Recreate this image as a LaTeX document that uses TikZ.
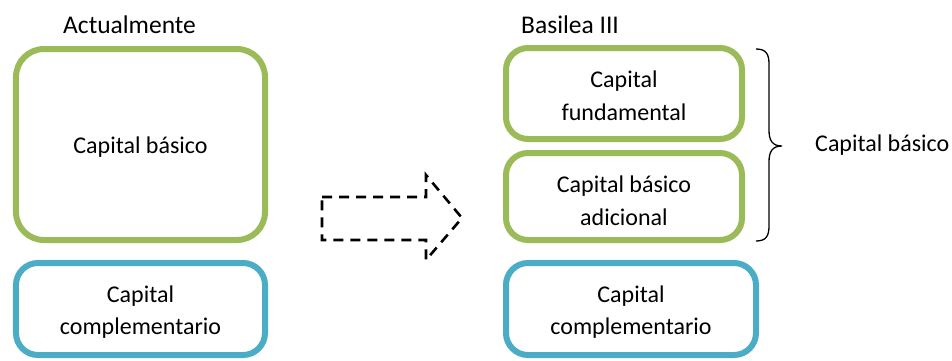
\documentclass[tikz,border=0pt]{standalone}
\usepackage{fontspec}
\setmainfont{Carlito}
\definecolor{capgreen}{HTML}{9BBB59}
\definecolor{capblue}{HTML}{4BACC6}
\begin{document}
\begin{tikzpicture}[x=1bp,y=-1bp,
  every node/.style={font=\fontsize{24bp}{32.5bp}\selectfont, text=black},
  capbox/.style={draw, line width=6bp, rounded corners=22bp,
    inner sep=0pt, outer sep=0pt},
  greenbox/.style={capbox, draw=capgreen},
  bluebox/.style={capbox, draw=capblue},
  boxtext/.style={align=center, inner sep=0pt},
  heading/.style={anchor=base west, inner sep=0pt,
    font=\fontsize{25.5bp}{30bp}\selectfont},
  shiftarrow/.style={draw=black, line width=2.6bp, dash pattern=on 10bp off 7bp},
  bracepath/.style={draw=black, line width=1.3bp}]
\useasboundingbox (0,0) rectangle (952,360);

% column headings
\node[heading] (hleft) at (63,33) {Actualmente};
\node[heading] (hright) at (521,33) {Basilea III};

% current structure
\node[greenbox, rounded corners=28bp, minimum width=249bp, minimum height=191bp]
  (basico) at (140.5,144.5) {};
\node[boxtext] (tbasico) at ([yshift=-3bp]basico.center) {Capital básico};
\node[bluebox, minimum width=249bp, minimum height=92bp]
  (compl) at (140.5,309) {};
\node[boxtext] (tcompl) at ([yshift=-3bp]compl.center) {Capital\\complementario};

% Basel III structure
\node[greenbox, minimum width=236bp, minimum height=91bp]
  (fund) at (624,93.5) {};
\node[boxtext] (tfund) at ([yshift=-2bp]fund.center) {Capital\\fundamental};
\node[greenbox, minimum width=236bp, minimum height=87bp]
  (adic) at (624,196.5) {};
\node[boxtext] (tadic) at ([yshift=-4bp]adic.center) {Capital básico\\adicional};
\node[bluebox, minimum width=250bp, minimum height=92bp]
  (compl3) at (631,309) {};
\node[boxtext] (tcompl3) at ([yshift=-3bp]compl3.center) {Capital\\complementario};

% dashed transition arrow
\coordinate (a1) at (322,197);
\coordinate (a2) at (426,197);
\coordinate (a3) at (426,175);
\coordinate (a4) at (462,218);
\coordinate (a5) at (426,260);
\coordinate (a6) at (426,240);
\coordinate (a7) at (322,240);
\draw[shiftarrow] (a1) -- (a2) -- (a3) -- (a4) -- (a5) -- (a6) -- (a7) -- cycle;

% brace grouping the two tier-1 boxes
\coordinate (btop) at (756,49);
\coordinate (btip) at (782,146);
\coordinate (bbot) at (756,241);
\draw[bracepath] (btop) .. controls (766,49) and (769,54) .. (769,64)
  -- (769,130) .. controls (769,140) and (772,146) .. (btip)
  .. controls (772,146) and (769,152) .. (769,162)
  -- (769,226) .. controls (769,236) and (766,241) .. (bbot);
\node[anchor=west, inner sep=0pt] (lblbasico) at (815,145) {Capital básico};
\end{tikzpicture}
\end{document}
